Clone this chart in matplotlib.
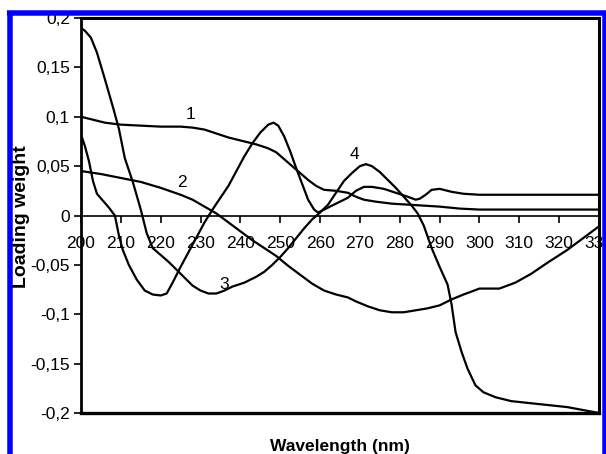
import matplotlib
matplotlib.use("Agg")
import matplotlib.pyplot as plt
from matplotlib import font_manager
from matplotlib.lines import Line2D

# ---------------- data ----------------
x1 = [200, 203, 206, 210, 215, 220, 225, 228, 231, 234, 237, 240, 244, 247, 249, 251, 253, 255,
      257, 259, 261, 264, 267, 269, 271, 274, 278, 282, 286, 290, 295, 300, 310, 320, 330]
y1 = [0.100, 0.097, 0.094, 0.092, 0.091, 0.090, 0.090, 0.089, 0.087, 0.083, 0.079, 0.076, 0.072,
      0.068, 0.064, 0.057, 0.050, 0.043, 0.036, 0.030, 0.026, 0.025, 0.023, 0.019, 0.016, 0.014,
      0.012, 0.011, 0.010, 0.009, 0.007, 0.006, 0.006, 0.006, 0.006]

x2 = [200, 205, 210, 215, 220, 225, 228, 231, 234, 237, 240, 243, 246, 249, 252, 255, 258, 261,
      264, 267, 269, 272, 275, 278, 281, 284, 287, 290, 293, 296, 300, 305, 309, 313, 317, 322,
      326, 330]
y2 = [0.045, 0.042, 0.038, 0.034, 0.028, 0.021, 0.016, 0.009, 0.002, -0.007, -0.016, -0.025,
      -0.033, -0.041, -0.051, -0.060, -0.069, -0.076, -0.080, -0.083, -0.087, -0.092, -0.096,
      -0.098, -0.098, -0.096, -0.094, -0.091, -0.085, -0.080, -0.074, -0.074, -0.068, -0.059,
      -0.048, -0.035, -0.023, -0.011]

x3 = [200, 201, 202.5, 204, 206, 208, 209.5, 211, 213, 215, 216.5, 218, 220, 222, 224, 226, 228,
      230, 232, 234, 236, 238, 241, 244, 246, 248, 250, 252, 254, 256, 258, 260, 262, 264, 266,
      268, 270, 271.5, 273, 275, 277, 279, 281, 283, 284.5, 286, 288, 290, 292, 293, 294, 295.5,
      297, 299, 301, 304, 308, 315, 322, 330]
y3 = [0.190, 0.187, 0.180, 0.165, 0.138, 0.110, 0.088, 0.058, 0.034, 0.006, -0.018, -0.033,
      -0.040, -0.047, -0.055, -0.063, -0.071, -0.076, -0.079, -0.079, -0.076, -0.072, -0.068,
      -0.062, -0.057, -0.050, -0.042, -0.033, -0.023, -0.013, -0.004, 0.003, 0.011, 0.023, 0.035,
      0.043, 0.050, 0.052, 0.050, 0.044, 0.036, 0.028, 0.019, 0.010, 0.002, -0.010, -0.033,
      -0.052, -0.070, -0.090, -0.118, -0.138, -0.155, -0.172, -0.179, -0.184, -0.188, -0.191,
      -0.194, -0.200]

x4 = [200, 201, 202, 203, 204, 205.5, 207, 208.5, 209.5, 210.5, 212, 214, 216, 218, 220, 221.5,
      223, 225, 227, 229, 231, 233, 235, 237, 239, 241, 243, 245, 247, 248.3, 249.5, 251, 252.5,
      254, 255.5, 257, 258.5, 259.5, 261, 263, 265, 267, 269, 271, 273, 276, 279, 282, 284, 285,
      286.5, 288, 290, 293, 296, 300, 330]
y4 = [0.082, 0.070, 0.055, 0.035, 0.022, 0.015, 0.008, 0.000, -0.020, -0.035, -0.050, -0.065,
      -0.076, -0.080, -0.081, -0.079, -0.068, -0.052, -0.037, -0.022, -0.007, 0.006, 0.018,
      0.030, 0.045, 0.060, 0.073, 0.084, 0.092, 0.094, 0.091, 0.080, 0.065, 0.048, 0.032, 0.016,
      0.006, 0.003, 0.006, 0.010, 0.014, 0.018, 0.025, 0.029, 0.029, 0.027, 0.023, 0.019, 0.016,
      0.017, 0.021, 0.026, 0.027, 0.024, 0.022, 0.021, 0.021]

curve_labels = ["1", "2", "3", "4"]
label_x = [227.5, 225.3, 236.0, 268.7]
label_y = [0.102, 0.033, -0.070, 0.062]

x_ticks = list(range(200, 331, 10))
y_ticks = [0.2, 0.15, 0.1, 0.05, 0, -0.05, -0.1, -0.15, -0.2]
y_tick_labels = ["0,2", "0,15", "0,1", "0,05", "0", "-0,05", "-0,1", "-0,15", "-0,2"]

# ---------------- fonts ----------------
names = {f.name for f in font_manager.fontManager.ttflist}
if "Liberation Sans Narrow" in names:
    tick_font, tick_size = "Liberation Sans Narrow", 14
else:
    tick_font, tick_size = "Liberation Sans", 12.5
bold_font = "Liberation Sans" if "Liberation Sans" in names else "DejaVu Sans"

W, H = 606, 454
fig = plt.figure(figsize=(W / 100, H / 100), dpi=100)
fig.patch.set_facecolor("white")
ax = fig.add_axes([81 / W, 1 - 413 / H, 518 / W, 395 / H])

for xs, ys in [(x1, y1), (x2, y2), (x3, y3), (x4, y4)]:
    ax.plot(xs, ys, color="black", lw=1.6, solid_joinstyle="round", zorder=3)

for t, lx, ly in zip(curve_labels, label_x, label_y):
    ax.text(lx, ly, t, fontsize=tick_size, family=tick_font, ha="center", va="center",
            color="black", zorder=4)

ax.set_xlim(200, 330)
ax.set_ylim(-0.2, 0.2)

ax.spines["bottom"].set_position(("data", 0))
ax.spines["bottom"].set_linewidth(1.2)
ax.spines["left"].set_linewidth(2.0)
ax.spines["top"].set_linewidth(2.2)
ax.spines["right"].set_linewidth(2.2)
ax.axhline(-0.2, color="black", lw=2.4, clip_on=False, zorder=5)

ax.set_xticks(x_ticks)
ax.set_xticklabels([str(v) for v in x_ticks], family=tick_font, fontsize=tick_size)
ax.set_yticks(y_ticks)
ax.set_yticklabels(y_tick_labels, family=tick_font, fontsize=tick_size)
ax.tick_params(axis="x", direction="out", length=5, width=1.2, pad=10)
ax.tick_params(axis="y", direction="out", length=5, width=1.2, pad=3)

fig.text(340 / W, 1 - 446 / H, "Wavelength (nm)", fontsize=12.5, fontweight="bold",
         family=bold_font, ha="center", va="center")
fig.text(21 / W, 1 - 217 / H, "Loading weight", fontsize=14, fontweight="bold",
         family=bold_font, ha="center", va="center", rotation=90)

# blue outer frame (left, top, right)
blue = (0, 0, 1)
lw_px = 5.5
lw_pt = lw_px * 72 / 100
fig.add_artist(Line2D([10 / W, 10 / W], [-0.05, 1 - 12.5 / H], transform=fig.transFigure,
                      color=blue, lw=lw_pt, solid_capstyle="butt", zorder=10))
fig.add_artist(Line2D([7 / W, 606 / W], [1 - 12.5 / H, 1 - 12.5 / H], transform=fig.transFigure,
                      color=blue, lw=lw_pt, solid_capstyle="butt", zorder=10))
fig.add_artist(Line2D([604.5 / W, 604.5 / W], [-0.05, 1 - 12.5 / H], transform=fig.transFigure,
                      color=blue, lw=lw_pt, solid_capstyle="butt", zorder=10))

fig.savefig("out.png", dpi=100, facecolor="white")
